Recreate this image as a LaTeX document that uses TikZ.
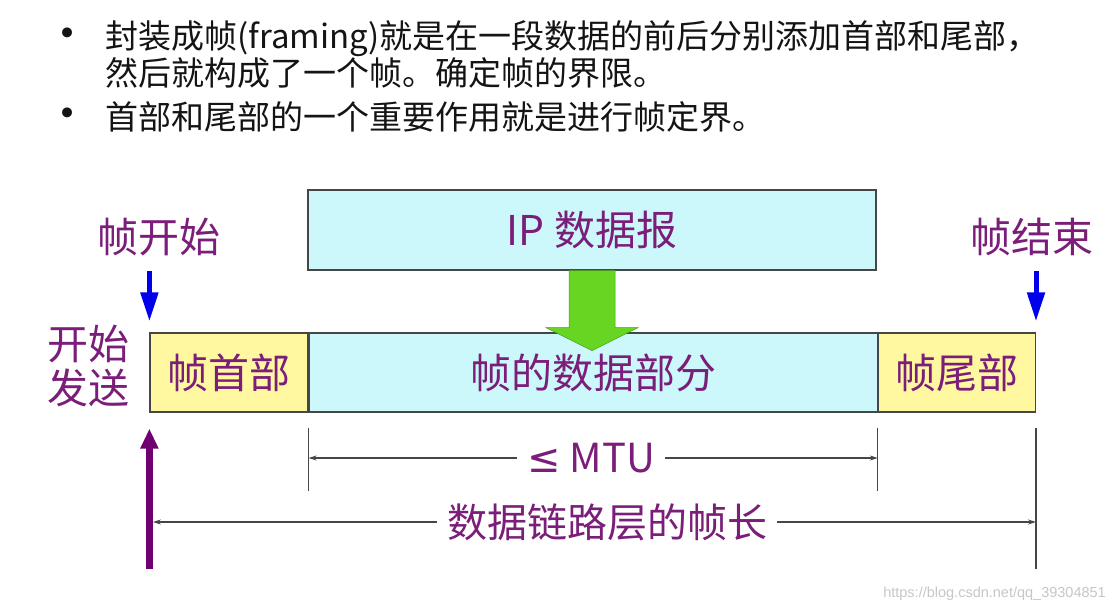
\documentclass[tikz,border=0pt]{standalone}
\usepackage{fontspec}
\newfontfamily\cjk{Noto Sans CJK SC}
\newfontfamily\symfont{DejaVu Sans}
\newfontfamily\wmfont{Liberation Sans}
\usepackage{tikz}
\usetikzlibrary{arrows.meta,calc}
\usepackage{xcolor}
\definecolor{labelpurple}{RGB}{122,30,122}
\definecolor{datacyan}{RGB}{204,247,251}
\definecolor{hdryellow}{RGB}{255,248,160}
\definecolor{arrowgreen}{RGB}{102,214,34}
\definecolor{edgegray}{RGB}{70,70,70}
\definecolor{markblue}{RGB}{0,0,235}
\definecolor{startpurple}{RGB}{112,0,112}

\begin{document}
\begin{tikzpicture}[x=1pt, y=-1pt,
    box/.style={draw=edgegray, line width=1.2pt, minimum height=79pt, inner sep=0pt, font=\cjk\fontsize{41}{44}\selectfont, text=labelpurple},
    lbl/.style={font=\cjk\fontsize{41}{44}\selectfont, text=labelpurple, inner sep=0pt},
    bullettext/.style={font=\cjk\fontsize{33}{35}\selectfont, text=black!92, anchor=west, align=left, inner sep=0pt},
    bulletdot/.style={font=\symfont\fontsize{34}{34}\selectfont, text=black!92, inner sep=0pt},
    markarrow/.style={draw=markblue, line width=5pt, -{Triangle[length=29pt,width=17pt]}},
    sendarrow/.style={draw=startpurple, line width=7pt, -{Triangle[length=20pt,width=17pt]}},
    tickline/.style={draw=edgegray, line width=1.2pt},
    dimarrow/.style={draw=edgegray, line width=1.2pt, -{Stealth[length=8pt,width=5pt]}},
    dimlabel/.style={lbl, font=\cjk\fontsize{40}{44}\selectfont, inner xsep=10pt, inner ysep=2pt}]
    \useasboundingbox (0,0) rectangle (1113,612);
    \fill[white] (0,0) rectangle (1113,612);

    % Bullet text at top
    \node[bulletdot] (dot1) at (68,37) {•};
    \node[bullettext] (item1) at (105,54.5) {封装成帧(framing)就是在一段数据的前后分别添加首部和尾部，\\然后就构成了一个帧。确定帧的界限。};
    \node[bulletdot] (dot2) at (68,117) {•};
    \node[bullettext] (item2) at (105,117) {首部和尾部的一个重要作用就是进行帧定界。};

    % IP datagram
    \node[box, fill=datacyan, minimum width=568pt, minimum height=80pt] (ip) at (592,230) {IP 数据报};

    % Frame: header, data, trailer
    \node[box, fill=hdryellow, minimum width=158pt] (hdr) at (229,372.5) {帧首部};
    \node[box, fill=datacyan, minimum width=568pt, anchor=west] (data) at (hdr.east) {帧的数据部分};
    \node[box, fill=hdryellow, minimum width=157pt, anchor=west] (tlr) at (data.east) {帧尾部};

    % Green arrow down into the data part
    \fill[arrowgreen, draw=arrowgreen!75!black, line width=0.5pt]
        ($(ip.south)+(-23,0)$) -- ($(ip.south)+(23,0)$) -- ($(ip.south)+(23,57)$) -- ($(ip.south)+(46,57)$)
        -- ($(ip.south)+(0,80)$) -- ($(ip.south)+(-46,57)$) -- ($(ip.south)+(-23,57)$) -- cycle;

    % Start / end labels and marks
    \node[lbl] (sof) at (159,237) {帧开始};
    \node[lbl] (eof) at (1032,237) {帧结束};
    \node[lbl, align=center] (send) at (88,366) {开始\\发送};
    \draw[markarrow] ([yshift=61pt]hdr.north west) -- ([yshift=11pt]hdr.north west);
    \draw[markarrow] ([yshift=61pt]tlr.north east) -- ([yshift=11pt]tlr.north east);

    % Dimension ticks
    \draw[tickline] ([yshift=-15pt]data.south west) -- ([yshift=-78pt]data.south west);
    \draw[tickline] ([yshift=-15pt]data.south east) -- ([yshift=-78pt]data.south east);
    \draw[tickline] ([yshift=-15pt]tlr.south east) -- ([yshift=-156pt]tlr.south east);

    % MTU and frame length
    \node[dimlabel] (mtu) at (591,458) {{\symfont ≤} MTU};
    \draw[dimarrow] (mtu.west) -- (mtu.west -| data.south west);
    \draw[dimarrow] (mtu.east) -- (mtu.east -| data.south east);
    \node[dimlabel] (flen) at (607,522) {数据链路层的帧长};
    \draw[dimarrow, shorten >=3.5pt] (flen.west) -- (flen.west -| hdr.south west);
    \draw[dimarrow] (flen.east) -- (flen.east -| tlr.south east);

    % Start of sending
    \draw[sendarrow] ([yshift=-156pt]hdr.south west) -- ([yshift=-16pt]hdr.south west);

    % Watermark
    \node[font=\wmfont\fontsize{14.5}{15}\selectfont, text=black!22, anchor=east, inner sep=0pt] (wm) at (1106,594) {https://blog.csdn.net/qq\_39304851};
\end{tikzpicture}
\end{document}
